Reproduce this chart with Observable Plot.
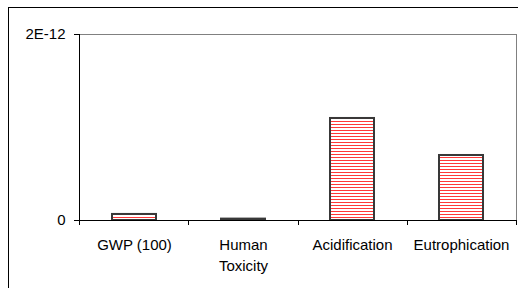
<!DOCTYPE html>
<html><head><meta charset="utf-8">
<script src="https://cdn.jsdelivr.net/npm/d3@7"></script>
<script src="https://cdn.jsdelivr.net/npm/@observablehq/plot@0.6"></script>
<style>
body{margin:0;background:#fff;}
</style></head><body>
<div id="chart"></div>
<script>
const categories = ["GWP (100)", "Human Toxicity", "Acidification", "Eutrophication"];
const categoryLabels = ["GWP (100)", "Human\nToxicity", "Acidification", "Eutrophication"];
const values = [0.065e-12, 0.015e-12, 1.097e-12, 0.699e-12];
const yTicks = [0, 2e-12];
const yTickLabels = ["0", "2E-12"];

const data = categories.map((c, i) => ({category: c, value: values[i]}));
const SVGNS = "http://www.w3.org/2000/svg";

function boundaryTicks(index, scales, vals, dims) {
  const g = document.createElementNS(SVGNS, "g");
  const n = categories.length;
  const x0 = dims.marginLeft, x1 = dims.width - dims.marginRight;
  const yb = dims.height - dims.marginBottom;
  for (let i = 0; i <= n; i++) {
    const x = Math.round(x0 + (x1 - x0) * i / n) + 0.5;
    const l = document.createElementNS(SVGNS, "line");
    l.setAttribute("x1", x); l.setAttribute("x2", x);
    l.setAttribute("y1", yb); l.setAttribute("y2", yb + 5);
    l.setAttribute("stroke", "#000");
    g.appendChild(l);
  }
  return g;
}

function outerBorder(index, scales, vals, dims) {
  const r = document.createElementNS(SVGNS, "rect");
  r.setAttribute("x", 8.5); r.setAttribute("y", 7.5);
  r.setAttribute("width", dims.width + 20); r.setAttribute("height", dims.height + 20);
  r.setAttribute("fill", "none"); r.setAttribute("stroke", "#000");
  return r;
}

const chart = Plot.plot({
  width: 518,
  height: 288,
  marginLeft: 79,
  marginRight: 2,
  marginTop: 34,
  marginBottom: 68,
  style: {fontFamily: "'Liberation Sans', Arial, sans-serif", fontSize: "15px", background: "#fff", color: "#000", overflow: "hidden"},
  x: {type: "band", domain: categories, paddingInner: 0.6, paddingOuter: 0.3, axis: null, label: null},
  y: {domain: [0, 2e-12], axis: null, label: null},
  marks: [
    outerBorder,
    Plot.frame({stroke: "#808080"}),
    Plot.barY(data, {x: "category", y: "value", fill: "url(#stripes)", stroke: "#383838", strokeWidth: 2}),
    Plot.ruleY([0], {stroke: "#000"}),
    Plot.frame({anchor: "left", stroke: "#000"}),
    Plot.axisY({ticks: yTicks, tickFormat: d => yTickLabels[yTicks.indexOf(d)], tickSize: 5, tickPadding: 9, stroke: "#000", fill: "#000", label: null}),
    Plot.axisX({tickSize: 0, tickPadding: 15, tickFormat: d => categoryLabels[categories.indexOf(d)], lineHeight: 1.37, fill: "#000", label: null}),
    boundaryTicks
  ]
});

const defs = document.createElementNS(SVGNS, "defs");
defs.innerHTML = '<pattern id="stripes" patternUnits="userSpaceOnUse" x="0" y="0" width="4" height="3"><rect width="4" height="3" fill="#fff"/><rect y="1" width="4" height="1" fill="#ff3838"/></pattern>';
chart.insertBefore(defs, chart.firstChild);
document.getElementById("chart").appendChild(chart);
</script>
</body></html>
